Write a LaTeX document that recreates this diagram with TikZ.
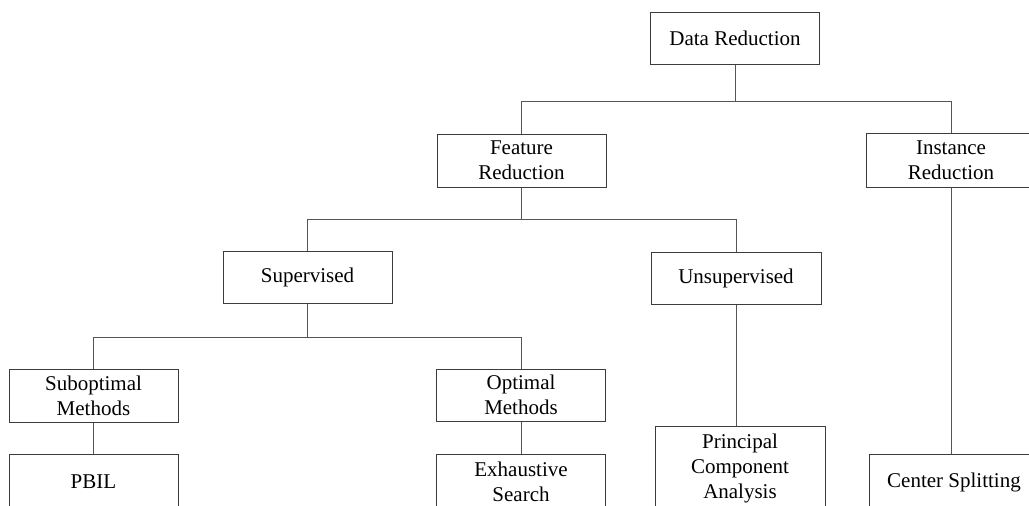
\documentclass[tikz,border=0pt]{standalone}
\usepackage{fontspec}
\setmainfont{Liberation Serif}
\usepackage{tikz}
\usetikzlibrary{positioning,calc}
\definecolor{DrInk}{RGB}{60,60,60}
\definecolor{DrLine}{RGB}{85,85,85}
\tikzset{
  dr/box/.style={
    draw=DrInk,
    line width=1pt,
    fill=white,
    align=center,
    text=black,
    minimum width=169pt,
    minimum height=52pt,
    inner sep=2pt,
    font=\fontsize{21}{25}\selectfont
  },
  dr/tallbox/.style={dr/box, minimum height=56pt},
  dr/link/.style={draw=DrLine, line width=0.9pt}
}
\begin{document}
\begin{tikzpicture}[x=1pt,y=-1pt]
  \useasboundingbox (0,0) rectangle (1029,506);
  \fill[white] (0,0) rectangle (1029,506);
  \clip (0,0) rectangle (1029,506);
  % tree nodes
  \node[dr/box] (dr) at (735,38) {Data Reduction};
  \node[dr/box,minimum height=53pt] (fr) at (521.5,160.5) {Feature\\Reduction};
  \node[dr/box,minimum height=54pt,minimum width=170pt] (ir) at (951,160) {Instance\\Reduction};
  \node[dr/box] (sup) at (307.5,277.5) {Supervised};
  \node[dr/box,minimum width=170pt] (uns) at (736,278) {Unsupervised};
  \node[dr/box,minimum height=53pt] (sub) at (93.5,395.5) {Suboptimal\\Methods};
  \node[dr/box] (opt) at (521,395) {Optimal\\Methods};
  \node[dr/tallbox] (pbil) at (93.5,482) {PBIL};
  \node[dr/tallbox] (exh) at (521,482) {Exhaustive\\Search};
  \node[dr/box,minimum width=170pt,minimum height=84pt] (pca) at (740,468) {Principal\\Component\\Analysis};
  \node[dr/tallbox] (cs) at (954,482) {Center Splitting};
  % connectors
  \draw[dr/link] (dr.south) -- ++(0,37) -| (fr.north);
  \draw[dr/link] (dr.south) -- ++(0,37) -| (ir.north);
  \draw[dr/link] (fr.south) -- ++(0,32) -| (sup.north);
  \draw[dr/link] (fr.south) -- ++(0,32) -| (uns.north);
  \draw[dr/link] (sup.south) -- ++(0,33) -| (sub.north);
  \draw[dr/link] (sup.south) -- ++(0,33) -| (opt.north);
  \draw[dr/link] (sub.south) -- (pbil.north);
  \draw[dr/link] (opt.south) -- (exh.north);
  \draw[dr/link] (uns.south) -- (uns.south |- pca.north);
  \draw[dr/link] (ir.south) -- (ir.south |- cs.north);
\end{tikzpicture}
\end{document}
